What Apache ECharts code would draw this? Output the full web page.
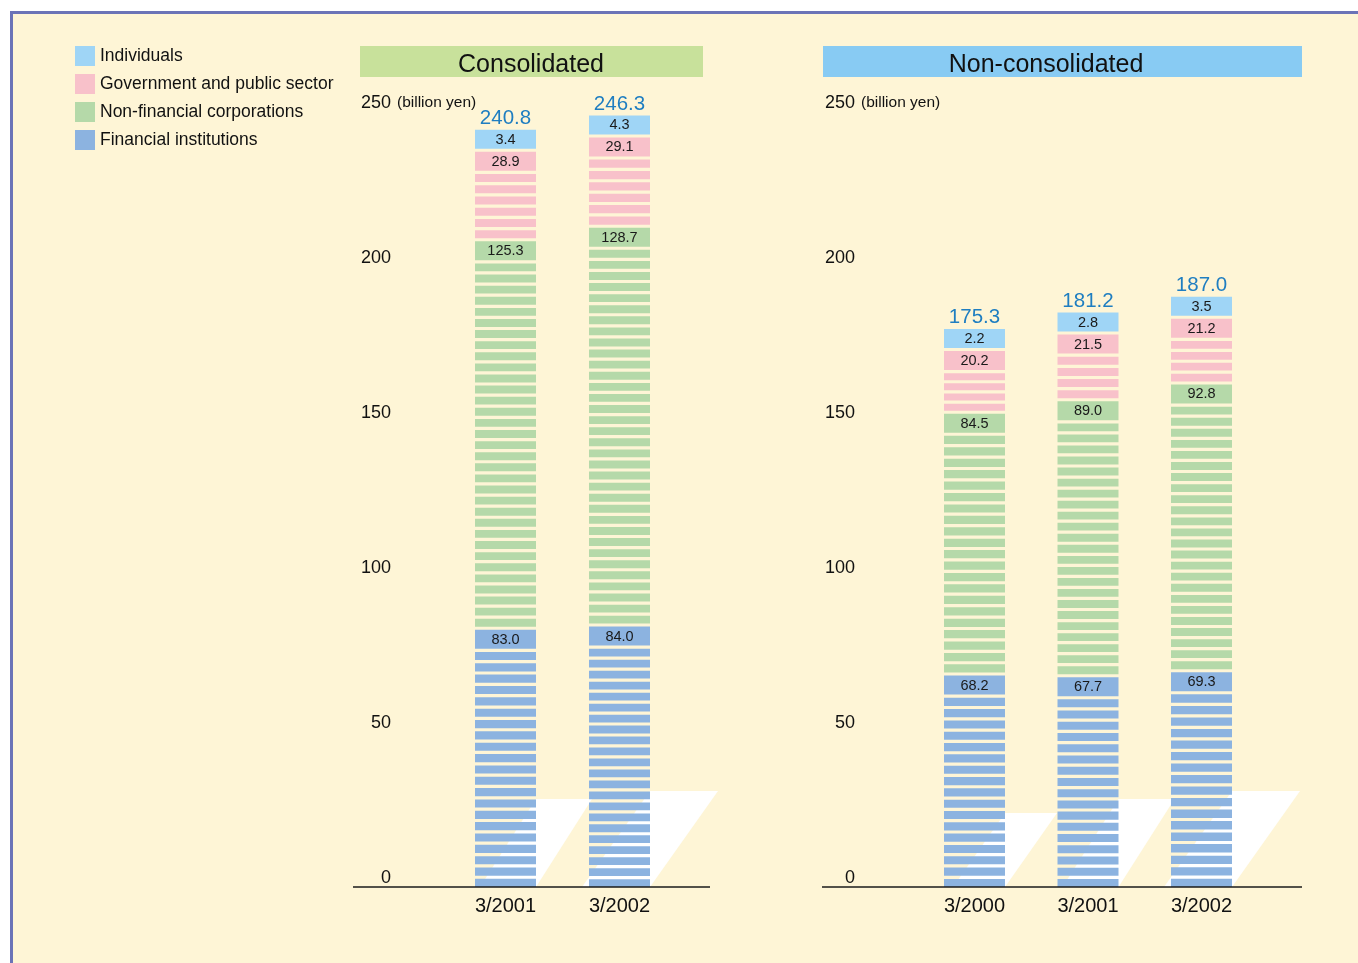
<!DOCTYPE html>
<html>
<head>
<meta charset="utf-8">
<title>Shareholders by type</title>
<script src="https://cdn.jsdelivr.net/npm/echarts@6/dist/echarts.min.js"></script>
<style>
  html, body { margin: 0; padding: 0; background: #ffffff; }
  #chart { width: 1358px; height: 963px; }
</style>
</head>
<body>
<div id="chart"></div>
<script>
// ---- data (billion yen) ----
const consCategories = ['3/2001', '3/2002'];
const consFinancial = [83.0, 84.0];
const consNonFinancial = [125.3, 128.7];
const consGovernment = [28.9, 29.1];
const consIndividuals = [3.4, 4.3];
const consTotals = [240.8, 246.3];

const nonconsCategories = ['3/2000', '3/2001', '3/2002'];
const nonconsFinancial = [68.2, 67.7, 69.3];
const nonconsNonFinancial = [84.5, 89.0, 92.8];
const nonconsGovernment = [20.2, 21.5, 21.2];
const nonconsIndividuals = [2.2, 2.8, 3.5];
const nonconsTotals = [175.3, 181.2, 187.0];

const yMin = 0, yMax = 250, yStep = 50;

const seriesNames = ['Financial institutions', 'Non-financial corporations',
                     'Government and public sector', 'Individuals'];

// ---- styles ----
const FONT = "'Liberation Sans', Arial, sans-serif";
const COLORS = {
  'Individuals': '#9fd5f6',
  'Government and public sector': '#f8c1ca',
  'Non-financial corporations': '#b5d9a9',
  'Financial institutions': '#8cb3e0'
};
const CREAM = '#fef5d6';
const FRAME = '#6b73b7';
const TOTAL_COLOR = '#1f7ec1';
const BAR_W = 61;
const BOX_H = 19;
const SEG_GAP = 3;
const STRIPE_P = 11.2;
const STRIPE_H = 8;
// light wedge behind each column (pixel height and slant)
const WEDGE = { '3/2000': { h: 74, s: 52 }, '3/2001': { h: 88, s: 56 }, '3/2002': { h: 96, s: 68 } };

const GRIDS = [
  { left: 448.5, top: 112, width: 228, height: 775, labelRight: 391, lineFrom: 353, lineTo: 710 },
  { left: 917.75, top: 112, width: 340.5, height: 775, labelRight: 855, lineFrom: 822, lineTo: 1302 }
];

function segmentRenderer(withTotal) {
  return function (params, api) {
    const cat = api.value(0);
    const base = api.value(1);
    const top = api.value(2);
    const xc = api.coord([cat, 0])[0];
    const yBase = api.coord([cat, base])[1];
    const yTop = api.coord([cat, top])[1];
    const x = xc - BAR_W / 2;
    const color = api.visual('color');
    const bottom = base > 0 ? yBase - SEG_GAP : yBase;
    let boxTop = yTop;
    if (bottom - yTop < BOX_H) boxTop = bottom - BOX_H;
    const boxBottom = boxTop + BOX_H;
    const children = [];
    // evenly spaced stripes between the segment's foot and its value box
    const gap = STRIPE_P - STRIPE_H;
    const span = bottom - boxBottom;
    if (span > gap + 2) {
      const n = Math.max(1, Math.round(span / STRIPE_P));
      const period = span / n;
      const h = period - gap;
      for (let k = 0; k < n; k++) {
        const sb = bottom - k * period;
        children.push({ type: 'rect', shape: { x: x, y: sb - h, width: BAR_W, height: h }, style: { fill: color } });
      }
    }
    children.push({ type: 'rect', shape: { x: x, y: boxTop, width: BAR_W, height: BOX_H }, style: { fill: color } });
    children.push({
      type: 'text',
      style: {
        text: api.value(3).toFixed(1), x: xc, y: boxTop + BOX_H / 2 + 0.5,
        align: 'center', verticalAlign: 'middle', textAlign: 'center', textVerticalAlign: 'middle',
        fill: '#1a1a1a', font: '14.5px ' + FONT
      }
    });
    if (withTotal) {
      children.push({
        type: 'text',
        style: {
          text: api.value(4).toFixed(1), x: xc, y: boxTop - 1,
          align: 'center', verticalAlign: 'bottom', textAlign: 'center', textVerticalAlign: 'bottom',
          fill: TOTAL_COLOR, font: '20.5px ' + FONT
        }
      });
    }
    return { type: 'group', children: children };
  };
}

function wedgeRenderer(categories) {
  return function (params, api) {
    const cat = api.value(0);
    const p = api.coord([cat, 0]);
    const w = WEDGE[categories[cat]];
    const xr = p[0] + BAR_W / 2;
    const yb = p[1];
    return {
      type: 'polygon',
      shape: { points: [[xr - w.s, yb], [xr, yb], [xr + w.s, yb - w.h], [xr, yb - w.h]] },
      style: { fill: '#ffffff' }
    };
  };
}

function buildPanel(gridIndex, categories, layers, totals) {
  const out = [];
  out.push({
    type: 'custom', name: 'wedge', xAxisIndex: gridIndex, yAxisIndex: gridIndex, z: 1,
    renderItem: wedgeRenderer(categories), encode: { x: 0, y: 1 }, silent: true,
    data: categories.map((c, i) => [i, 0])
  });
  const cum = categories.map(() => 0);
  layers.forEach((vals, li) => {
    const name = seriesNames[li];
    const isTop = li === layers.length - 1;
    const data = vals.map((v, i) => {
      const item = [i, cum[i], cum[i] + v, v];
      if (isTop) item.push(totals[i]);
      cum[i] += v;
      return item;
    });
    out.push({
      type: 'custom', name: name, xAxisIndex: gridIndex, yAxisIndex: gridIndex, z: 2,
      itemStyle: { color: COLORS[name] },
      renderItem: segmentRenderer(isTop), encode: { x: 0, y: [1, 2] },
      data: data
    });
  });
  return out;
}

const chart = echarts.init(document.getElementById('chart'), null, { renderer: 'canvas' });

const xAxes = [consCategories, nonconsCategories].map((cats, gi) => ({
  type: 'category', gridIndex: gi, data: cats,
  axisLine: { show: false }, axisTick: { show: false },
  axisLabel: { fontSize: 20, color: '#111', fontFamily: FONT, margin: 9 }
}));

const yAxes = GRIDS.map((g, gi) => ({
  type: 'value', gridIndex: gi, min: yMin, max: yMax, interval: yStep,
  axisLine: { show: false }, axisTick: { show: false }, splitLine: { show: false },
  axisLabel: {
    fontSize: 18, lineHeight: 18, color: '#111', fontFamily: FONT, align: 'right', verticalAlign: 'bottom',
    margin: g.left - g.labelRight
  }
}));

const staticGraphic = [
  { id: 'bg', type: 'rect', z: -10, shape: { x: 10, y: 11, width: 1348, height: 952 }, style: { fill: CREAM } },
  { id: 'frameTop', type: 'line', z: -5, shape: { x1: 10, y1: 12.5, x2: 1358, y2: 12.5 }, style: { stroke: FRAME, lineWidth: 3 } },
  { id: 'frameLeft', type: 'line', z: -5, shape: { x1: 11.5, y1: 11, x2: 11.5, y2: 963 }, style: { stroke: FRAME, lineWidth: 3 } },
  { id: 'titleBar1', type: 'rect', z: -4, shape: { x: 360, y: 46, width: 343, height: 31 }, style: { fill: '#c8e19b' } },
  { id: 'titleText1', type: 'text', z: -3, style: { text: 'Consolidated', x: 531, y: 65, align: 'center', verticalAlign: 'middle', textAlign: 'center', textVerticalAlign: 'middle', font: '25px ' + FONT, fill: '#111' } },
  { id: 'titleBar2', type: 'rect', z: -4, shape: { x: 823, y: 46, width: 479, height: 31 }, style: { fill: '#88cbf3' } },
  { id: 'titleText2', type: 'text', z: -3, style: { text: 'Non-consolidated', x: 1046, y: 65, align: 'center', verticalAlign: 'middle', textAlign: 'center', textVerticalAlign: 'middle', font: '25px ' + FONT, fill: '#111' } }
];

const option = {
  animation: false,
  backgroundColor: 'transparent',
  legend: {
    orient: 'vertical', left: 75, top: 46, padding: 0,
    itemWidth: 20, itemHeight: 20, itemGap: 8, icon: 'rect',
    selectedMode: false,
    textStyle: { fontSize: 17.5, color: '#111', fontFamily: FONT },
    data: ['Individuals', 'Government and public sector', 'Non-financial corporations', 'Financial institutions']
  },
  grid: GRIDS.map(g => ({ left: g.left, top: g.top, width: g.width, height: g.height })),
  xAxis: xAxes,
  yAxis: yAxes,
  graphic: staticGraphic,
  series: [].concat(
    buildPanel(0, consCategories, [consFinancial, consNonFinancial, consGovernment, consIndividuals], consTotals),
    buildPanel(1, nonconsCategories, [nonconsFinancial, nonconsNonFinancial, nonconsGovernment, nonconsIndividuals], nonconsTotals)
  )
};

chart.setOption(option);

// Baselines and unit captions placed from the axes' own scales
const extra = [];
GRIDS.forEach((g, gi) => {
  const y0 = chart.convertToPixel({ yAxisIndex: gi }, yMin);
  const yTop = chart.convertToPixel({ yAxisIndex: gi }, yMax);
  extra.push({ id: 'baseline' + gi, type: 'line', z: 5, shape: { x1: g.lineFrom, y1: y0, x2: g.lineTo, y2: y0 }, style: { stroke: '#1a1a1a', lineWidth: 1.6 } });
  extra.push({ id: 'unit' + gi, type: 'text', z: 5, style: { text: '(billion yen)', x: g.labelRight + 6, y: yTop - 9, align: 'left', verticalAlign: 'middle', textAlign: 'left', textVerticalAlign: 'middle', font: '15.5px ' + FONT, fill: '#111' } });
});
chart.setOption({ graphic: staticGraphic.concat(extra) });
</script>
</body>
</html>
